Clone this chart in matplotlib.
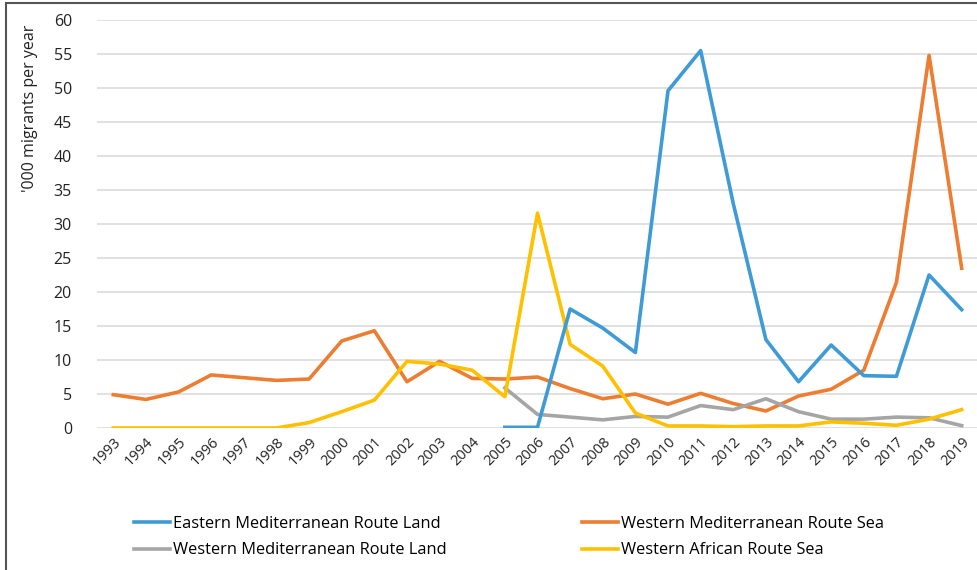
import matplotlib
matplotlib.use("Agg")
import matplotlib.pyplot as plt
from matplotlib.patches import Rectangle

years = list(range(1993, 2020))

# '000 migrants per year
east_med_land = [None] * 12 + [0.1, 0.1, 17.5, 14.7, 11.1, 49.6, 55.5, 33.0,
                               13.0, 6.8, 12.2, 7.7, 7.6, 22.5, 17.4]
west_med_sea = [4.9, 4.2, 5.3, 7.8, 7.4, 7.0, 7.2, 12.8, 14.3, 6.8, 9.8, 7.3,
                7.2, 7.5, 5.8, 4.3, 5.0, 3.5, 5.1, 3.6, 2.5, 4.7, 5.7, 8.5,
                21.4, 54.8, 23.5]
west_med_land = [None] * 12 + [5.9, 2.0, 1.6, 1.2, 1.7, 1.6, 3.3, 2.7, 4.3,
                               2.4, 1.3, 1.3, 1.6, 1.5, 0.35]
west_africa_sea = [0, 0, 0, 0, 0, 0, 0.8, 2.4, 4.1, 9.8, 9.4, 8.5, 4.6, 31.6,
                   12.3, 9.1, 2.2, 0.3, 0.3, 0.2, 0.3, 0.3, 0.9, 0.7, 0.4,
                   1.3, 2.7]

C_BLUE = "#3E9BD6"
C_ORANGE = "#ED7D31"
C_GRAY = "#A5A5A5"
C_GOLD = "#FFC000"

plt.rcParams["font.family"] = ["Open Sans", "DejaVu Sans"]

fig = plt.figure(figsize=(9.78, 5.70), dpi=100)
ax = fig.add_axes([97 / 978, 1 - 428 / 570, 1 - 97 / 978, 408 / 570])

x = list(range(len(years)))
lw = 2.6
l_blue, = ax.plot(x, east_med_land, color=C_BLUE, lw=lw, zorder=3,
                  label="Eastern Mediterranean Route Land")
l_gray, = ax.plot(x, west_med_land, color=C_GRAY, lw=lw, zorder=2.5,
                  label="Western Mediterranean Route Land")
l_orange, = ax.plot(x, west_med_sea, color=C_ORANGE, lw=lw, zorder=2,
                    label="Western Mediterranean Route Sea")
l_gold, = ax.plot(x, west_africa_sea, color=C_GOLD, lw=lw, zorder=2.6,
                  label="Western African Route Sea")

ax.set_xlim(-0.5, len(years) - 0.5)
ax.set_ylim(0, 60)
ax.set_yticks(range(0, 61, 5))
ax.set_xticks(x)
ax.set_xticklabels([str(y) for y in years], rotation=45, ha="right",
                   rotation_mode="anchor", fontsize=10.5)
ax.tick_params(axis="y", labelsize=11.5, length=0, pad=18, colors="#222222")
ax.tick_params(axis="x", length=0, pad=5, colors="#222222")
ax.grid(axis="y", color="#D9D9D9", lw=1.1)
ax.set_axisbelow(True)
for s in ax.spines.values():
    s.set_visible(False)

fig.text(30 / 978, 1 - 108 / 570, "'000 migrants per year", rotation=90,
         ha="center", va="center", fontsize=11.5, color="#222222")

# one legend per column so the columns sit where the reference has them
leg_kw = dict(loc="center left", frameon=False, fontsize=11.8,
              handlelength=2.2, handletextpad=0.2, labelspacing=0.65,
              borderpad=0, borderaxespad=0)
leg1 = fig.legend(handles=[l_blue, l_gray],
                  bbox_to_anchor=(134 / 978, 1 - 537 / 570), **leg_kw)
leg2 = fig.legend(handles=[l_orange, l_gold],
                  bbox_to_anchor=(582 / 978, 1 - 537 / 570), **leg_kw)

# outer frame of the chart area
fig.patches.append(Rectangle((6 / 978, -0.05), 1.1, 1 - 2.5 / 570 + 0.05,
                             transform=fig.transFigure, fill=False,
                             edgecolor="#555555", lw=1.5))

fig.savefig("out.png", dpi=100)
